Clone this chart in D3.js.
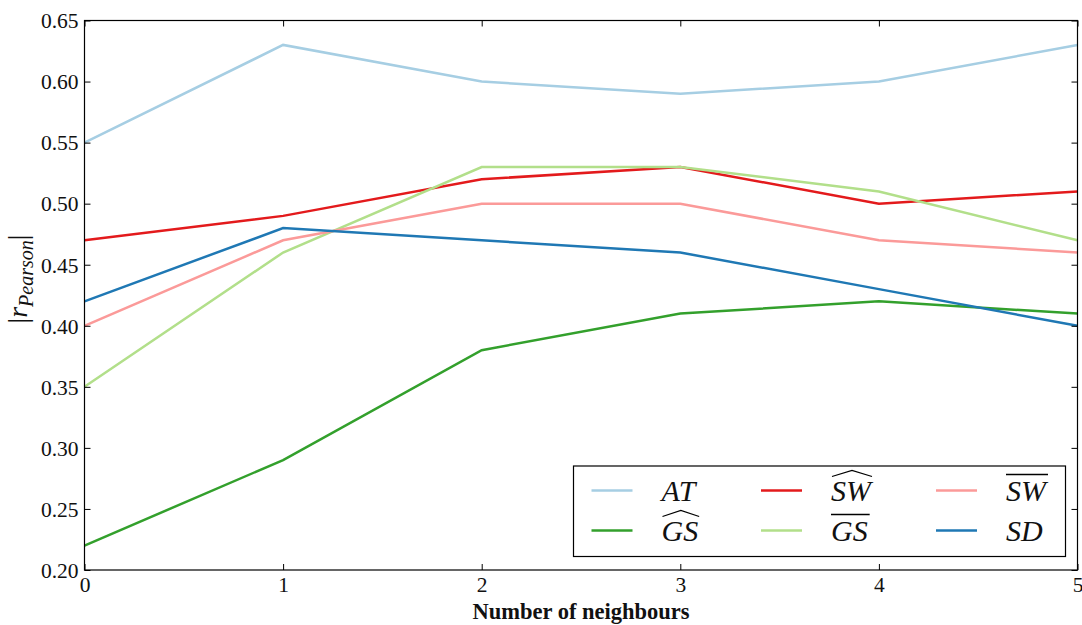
<!DOCTYPE html>
<html>
<head>
<meta charset="utf-8">
<script src="https://cdn.jsdelivr.net/npm/d3@7"></script>
<style>
  body { margin: 0; background: #fff; }
  svg { display: block; }
  text { font-family: "Liberation Serif", "DejaVu Serif", serif; fill: #111; }
</style>
</head>
<body>
<svg id="canvas" width="1082" height="625"></svg>
<script>
// data
var neighbours = [0, 1, 2, 3, 4, 5];
var at_vals     = [0.55, 0.63, 0.60, 0.59, 0.60, 0.63];
var gs_hat_vals = [0.22, 0.29, 0.38, 0.41, 0.42, 0.41];
var sw_hat_vals = [0.47, 0.49, 0.52, 0.53, 0.50, 0.51];
var gs_bar_vals = [0.35, 0.46, 0.53, 0.53, 0.51, 0.47];
var sw_bar_vals = [0.40, 0.47, 0.50, 0.50, 0.47, 0.46];
var sd_vals     = [0.42, 0.48, 0.47, 0.46, 0.43, 0.40];
var y_ticks = [0.20, 0.25, 0.30, 0.35, 0.40, 0.45, 0.50, 0.55, 0.60, 0.65];

// series: name + decoration ("hat", "bar" or none)
var series = [
  {label: "AT", deco: "", color: "#a6cee3", values: at_vals},
  {label: "GS", deco: "hat", color: "#33a02c", values: gs_hat_vals},
  {label: "SW", deco: "hat", color: "#e31a1c", values: sw_hat_vals},
  {label: "GS", deco: "bar", color: "#b2df8a", values: gs_bar_vals},
  {label: "SW", deco: "bar", color: "#fb9a99", values: sw_bar_vals},
  {label: "SD", deco: "", color: "#1f78b4", values: sd_vals}
];

var canvas = d3.select("#canvas");

var plot_left = 84.5, plot_right = 1077.5, plot_top = 20.5, plot_bottom = 570;

var x = d3.scaleLinear().domain([0, 5]).range([plot_left, plot_right]);
var y = d3.scaleLinear().domain([0.20, 0.65]).range([plot_bottom, plot_top]);

var tick_len = 6;

// lines
var line = d3.line()
    .x(function(d, i){ return x(neighbours[i]); })
    .y(function(d){ return y(d); });

series.forEach(function(s){
  canvas.append("path")
    .attr("d", line(s.values))
    .style("fill", "none")
    .style("stroke", s.color)
    .style("stroke-width", 2.5)
    .style("stroke-linejoin", "miter");
});

// frame
canvas.append("rect")
  .attr("x", plot_left).attr("y", plot_top)
  .attr("width", plot_right - plot_left).attr("height", plot_bottom - plot_top)
  .style("fill", "none").style("stroke", "#000").style("stroke-width", 1.2);

// x axis ticks (bottom + top, pointing inward)
var xAxis = d3.axisBottom(x).tickValues(neighbours).tickSize(-tick_len).tickPadding(7)
    .tickFormat(d3.format("d"));
var gx = canvas.append("g").attr("transform", "translate(0," + plot_bottom + ")").call(xAxis);
var gxTop = canvas.append("g").attr("transform", "translate(0," + plot_top + ")")
    .call(d3.axisTop(x).tickValues(neighbours).tickSize(-tick_len).tickFormat(""));

// y axis ticks (left + right, inward)
var yAxis = d3.axisLeft(y).tickValues(y_ticks).tickSize(-tick_len).tickPadding(6)
    .tickFormat(d3.format(".2f"));
var gy = canvas.append("g").attr("transform", "translate(" + plot_left + ",0)").call(yAxis);
var gyRight = canvas.append("g").attr("transform", "translate(" + plot_right + ",0)")
    .call(d3.axisRight(y).tickValues(y_ticks).tickSize(-tick_len).tickFormat(""));

[gx, gxTop, gy, gyRight].forEach(function(g){
  g.select(".domain").remove();
  g.selectAll(".tick line").style("stroke", "#000").style("stroke-width", 1);
  g.selectAll(".tick text")
    .style("font-family", "'Liberation Serif', serif")
    .style("font-size", "21.5px")
    .style("fill", "#111");
});
gx.selectAll(".tick text").attr("dy", "0.71em");
gy.selectAll(".tick text").attr("dy", "0.34em");

// x label
canvas.append("text")
  .attr("x", (plot_left + plot_right) / 2)
  .attr("y", 619)
  .attr("text-anchor", "middle")
  .style("font-size", "22.5px")
  .style("font-weight", "bold")
  .text("Number of neighbours");

// y label |r_Pearson|
var ylab = canvas.append("text")
  .attr("transform", "translate(27,279) rotate(-90)")
  .attr("text-anchor", "middle")
  .style("font-size", "28px");
ylab.append("tspan").text("|");
ylab.append("tspan").style("font-style", "italic").text("r");
ylab.append("tspan").style("font-style", "italic").style("font-size", "20px")
  .attr("dy", 6).text("Pearson");
ylab.append("tspan").attr("dy", -6).text("|");

// legend
var legend_x = 573.5, legend_y = 466, legend_w = 492, legend_h = 90.5;
canvas.append("rect")
  .attr("x", legend_x).attr("y", legend_y)
  .attr("width", legend_w).attr("height", legend_h)
  .style("fill", "#fff").style("stroke", "#000").style("stroke-width", 1.2);

var col_x = [591.5, 761, 936];
var row_y = [490.5, 530.5];
var sample_len = 41;
var label_off = 70;

series.forEach(function(s, i){
  var col = Math.floor(i / 2), row = i % 2;
  var lx = col_x[col], ly = row_y[row];
  canvas.append("line")
    .attr("x1", lx).attr("x2", lx + sample_len)
    .attr("y1", ly).attr("y2", ly)
    .style("stroke", s.color).style("stroke-width", 2.5);

  var t = canvas.append("text")
    .attr("x", lx + label_off)
    .attr("y", ly + 10)
    .style("font-size", "30px")
    .style("font-style", "italic")
    .text(s.label);
  var w = t.node().getComputedTextLength();
  var tx = lx + label_off;
  if (s.deco == "bar") {
    canvas.append("line")
      .attr("x1", tx).attr("x2", tx + w + 2)
      .attr("y1", ly - 16).attr("y2", ly - 16)
      .style("stroke", "#000").style("stroke-width", 1.6);
  } else if (s.deco == "hat") {
    canvas.append("path")
      .attr("d", "M" + (tx + 1) + " " + (ly - 14) +
                 " L" + (tx + w / 2 + 1) + " " + (ly - 20) +
                 " L" + (tx + w + 1) + " " + (ly - 14))
      .style("fill", "none").style("stroke", "#000").style("stroke-width", 1.2);
  }
});
</script>
</body>
</html>
